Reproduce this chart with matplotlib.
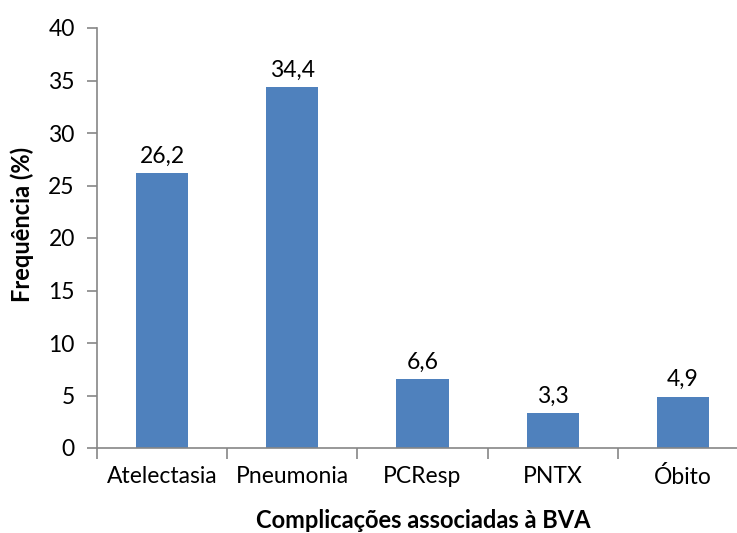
import matplotlib
matplotlib.use("Agg")
import matplotlib.pyplot as plt
import numpy as np

categories = ["Atelectasia", "Pneumonia", "PCResp", "PNTX", "Óbito"]
values = [26.2, 34.4, 6.6, 3.3, 4.9]
value_labels = ["26,2", "34,4", "6,6", "3,3", "4,9"]
yticks = [0, 5, 10, 15, 20, 25, 30, 35, 40]

plt.rcParams["font.family"] = ["Lato", "DejaVu Sans"]

fig = plt.figure(figsize=(7.37, 5.33), dpi=100)
ax = fig.add_axes([97 / 737, 1 - 448 / 533, 651 / 737, 420 / 533])

x = np.arange(len(categories))
ax.bar(x, values, width=0.4, color="#4F81BD", zorder=2)
for xi, v, lab in zip(x, values, value_labels):
    ax.text(xi, v + 0.6, lab, ha="center", va="bottom", fontsize=16.5, color="black")

ax.set_xlim(-0.5, len(categories) - 0.5)
ax.set_ylim(0, 40)
ax.set_yticks(yticks)
ax.set_yticklabels([str(t) for t in yticks], fontsize=16.5)
ax.set_xticks(x)
ax.set_xticklabels(categories, fontsize=16.5)
ax.tick_params(axis="x", length=0, pad=13)
ax.set_xticks(np.arange(-0.5, len(categories), 1.0), minor=True)
ax.tick_params(axis="x", which="minor", length=8, color="#868686", width=1.2)
ax.tick_params(axis="y", length=7, color="#868686", width=1.2, pad=9)

for side in ["top", "right"]:
    ax.spines[side].set_visible(False)
for side in ["left", "bottom"]:
    ax.spines[side].set_color("#868686")
    ax.spines[side].set_linewidth(1.2)

ax.set_xlabel("Complicações associadas à BVA", fontsize=17, fontweight="bold", va="center")
ax.set_ylabel("Frequência (%)", fontsize=17, fontweight="bold", va="center")
ax.xaxis.set_label_coords((423 - 97) / 651, -(521 - 448) / 420)
ax.yaxis.set_label_coords(-(97 - 22) / 651, (448 - 224) / 420)

fig.savefig("out.png", dpi=100)
